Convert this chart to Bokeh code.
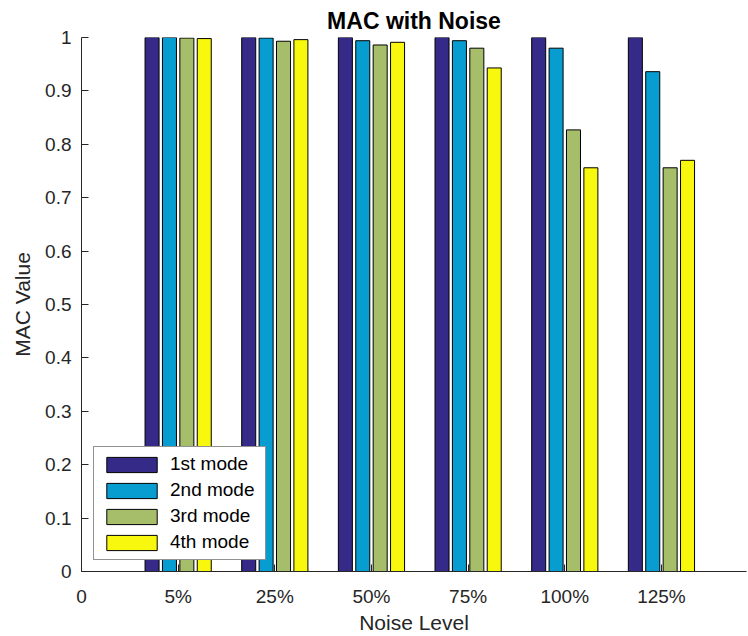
from bokeh.plotting import figure
from bokeh.models import FixedTicker, ColumnDataSource, Legend, LegendItem
from bokeh.transform import dodge
from bokeh.embed import file_html
from bokeh.resources import INLINE

# ---- data ----
noise_levels = ["5%", "25%", "50%", "75%", "100%", "125%"]
group_pos = [1, 2, 3, 4, 5, 6]
mode1 = [1.000, 1.000, 1.000, 1.000, 1.000, 1.000]
mode2 = [1.000, 0.999, 0.994, 0.994, 0.980, 0.936]
mode3 = [0.999, 0.993, 0.986, 0.980, 0.827, 0.756]
mode4 = [0.998, 0.996, 0.991, 0.943, 0.756, 0.770]
mode_names = ["1st mode", "2nd mode", "3rd mode", "4th mode"]
mode_colors = ["#352A87", "#079DD0", "#A6BE6A", "#F8F80F"]
y_ticks = [0, 0.1, 0.2, 0.3, 0.4, 0.5, 0.6, 0.7, 0.8, 0.9, 1]
y_tick_labels = ["0", "0.1", "0.2", "0.3", "0.4", "0.5", "0.6", "0.7", "0.8", "0.9", "1"]
x_ticks = [0, 1, 2, 3, 4, 5, 6]
x_tick_labels = ["0"] + noise_levels

FONT = "Liberation Sans"
TXT = "#262626"

source = ColumnDataSource(dict(x=group_pos, m1=mode1, m2=mode2, m3=mode3, m4=mode4))

p = figure(width=748, height=636, x_range=(0, 6.88), y_range=(0, 1),
           output_backend="svg", toolbar_location=None,
           min_border_left=81, min_border_right=2, min_border_top=37,
           min_border_bottom=64)

p.title.text = "MAC with Noise"
p.title.align = "center"
p.title.text_font = FONT
p.title.text_font_size = "23px"
p.title.text_font_style = "bold"
p.title.text_color = "#000000"
p.title.standoff = 8

offsets = [-0.27, -0.09, 0.09, 0.27]
cols = ["m1", "m2", "m3", "m4"]
items = []
for off, col, name, color in zip(offsets, cols, mode_names, mode_colors):
    r = p.vbar(x=dodge("x", off, range=p.x_range), top=col, width=0.145, bottom=0,
               source=source, fill_color=color, line_color="#000000", line_width=1)
    items.append(LegendItem(label=name, renderers=[r]))

legend = Legend(items=items, location=(12, 11), margin=0, padding=6,
                spacing=4, glyph_width=63, glyph_height=19, label_height=19,
                label_width=89, label_standoff=7, label_text_font=FONT,
                label_text_font_size="19px", label_text_color="#000000",
                border_line_color="#262626", border_line_width=1,
                background_fill_color="white", background_fill_alpha=1)
p.add_layout(legend)

p.grid.visible = False
p.outline_line_color = None
p.background_fill_color = "white"

for ax in (p.xaxis[0], p.yaxis[0]):
    ax.axis_line_color = TXT
    ax.axis_line_width = 1
    ax.major_tick_line_color = TXT
    ax.major_tick_in = 7
    ax.major_tick_out = 0
    ax.minor_tick_in = 0
    ax.minor_tick_out = 0
    ax.major_label_text_font = FONT
    ax.major_label_text_font_size = "19px"
    ax.major_label_text_color = TXT
    ax.axis_label_text_font = FONT
    ax.axis_label_text_font_size = "21px"
    ax.axis_label_text_font_style = "normal"
    ax.axis_label_text_color = TXT

p.xaxis.ticker = FixedTicker(ticks=x_ticks)
p.xaxis.major_label_overrides = {t: l for t, l in zip(x_ticks, x_tick_labels)}
p.xaxis.axis_label = "Noise Level"
p.xaxis.major_label_standoff = 14
p.xaxis.axis_label_standoff = 1

p.yaxis.ticker = FixedTicker(ticks=y_ticks)
p.yaxis.major_label_overrides = {t: l for t, l in zip(y_ticks, y_tick_labels)}
p.yaxis.axis_label = "MAC Value"
p.yaxis.major_label_standoff = 10
p.yaxis.axis_label_standoff = 8

open("out.html", "w").write(file_html(p, INLINE))
